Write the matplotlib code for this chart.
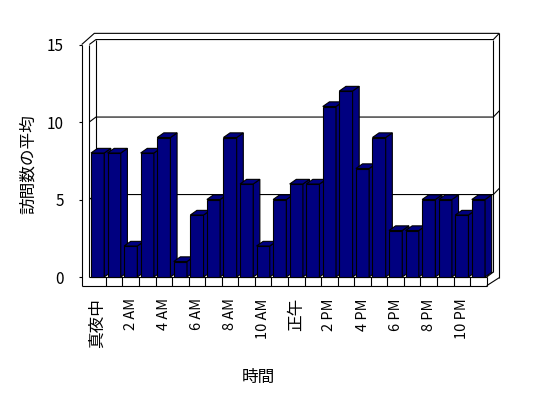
import matplotlib
matplotlib.use("Agg")
import matplotlib.pyplot as plt
from matplotlib.patches import Polygon

plt.rcParams['font.family'] = ['Noto Sans CJK JP', 'DejaVu Sans']

# data
hours = list(range(24))
visits = [8, 8, 2, 8, 9, 1, 4, 5, 9, 6, 2, 5, 6, 6, 11, 12, 7, 9, 3, 3, 5, 5, 4, 5]
tick_pos = list(range(0, 24, 2))
tick_labels = ["真夜中", "2 AM", "4 AM", "6 AM", "8 AM", "10 AM",
               "正午", "2 PM", "4 PM", "6 PM", "8 PM", "10 PM"]
y_ticks = [0, 5, 10, 15]

navy = "#000080"
lw = 0.8

# 3d look: depth offset (categories, value units)
ddx, ddy = 0.40, 0.32          # front -> back wall
bdx, bdy = 0.40, 0.30          # bar depth
wall = 0.46                    # left wall thickness (categories)
floor = 0.56                   # floor thickness (value units)
tx, ty = 0.36, 0.40            # back wall thickness
ymax = 15
n = len(hours)
xr = n - 0.5

fig = plt.figure(figsize=(5.48, 3.98), dpi=100)
ax = fig.add_axes([0.1491, 0.2822, 0.762, 0.634])
x0 = -0.5 - wall
ax.set_xlim(x0, xr + ddx + tx)
ax.set_ylim(-floor, ymax + ddy + ty)

def line(xs, ys, z=1):
    ax.plot(xs, ys, color="black", lw=lw, zorder=z, clip_on=False,
            solid_capstyle="butt")

# walls / frame
line([x0, x0], [-floor, ymax])
line([-0.5, -0.5], [0, ymax])
line([x0, -0.5 + ddx - 0.1, xr + ddx + tx], [ymax, ymax + ddy + ty, ymax + ddy + ty])
line([-0.5, -0.5 + ddx, xr + ddx, xr + ddx + tx], [ymax, ymax + ddy, ymax + ddy, ymax + ddy + ty])
line([-0.5 + ddx, -0.5 + ddx], [ddy, ymax + ddy])
line([xr + ddx, xr + ddx], [ddy, ymax + ddy])
line([xr + ddx + tx] * 2, [ymax + ddy + ty, -0.04])
line([xr, xr + ddx + tx], [-floor, -0.04])
line([x0, xr], [-floor, -floor])
line([-0.5, xr], [0, 0])
line([xr, xr], [-floor, 0])
line([xr, xr + ddx], [0, ddy])
for k in range(n - 1):
    line([k + 0.5, k + 0.5], [-floor, 0])
for v in y_ticks[1:-1]:
    line([-0.5, -0.5 + ddx, xr + ddx, xr + ddx + tx], [v, v + ddy, v + ddy, v + ddy + ty])

# bars
bars = ax.bar(hours, visits, width=0.8, color=navy, edgecolor="black", linewidth=lw)
for i, (b, v) in enumerate(zip(bars, visits)):
    z = 3 + i * 0.01
    b.set_zorder(z)
    xl, xh = hours[i] - 0.4, hours[i] + 0.4
    side = Polygon([(xh, 0), (xh + bdx, bdy), (xh + bdx, v + bdy), (xh, v)],
                   closed=True, facecolor=navy, edgecolor="black", lw=lw, zorder=z)
    top = Polygon([(xl, v), (xl + bdx, v + bdy), (xh + bdx, v + bdy), (xh, v)],
                  closed=True, facecolor=navy, edgecolor="black", lw=lw, zorder=z)
    ax.add_patch(side)
    ax.add_patch(top)

# axes
for s in ["top", "right", "bottom", "left"]:
    ax.spines[s].set_visible(False)
ax.set_yticks(y_ticks)
ax.set_yticklabels([str(t) for t in y_ticks], fontsize=11)
ax.tick_params(axis="y", length=2, width=lw, pad=11)
ax.set_xticks(tick_pos)
ax.set_xticklabels(tick_labels, rotation=90, fontsize=10.5, va="top", ha="center")
ax.tick_params(axis="x", length=0, pad=9)
for t in ax.get_xticklabels():
    if t.get_text() in ("真夜中", "正午"):
        t.set_fontsize(12)

fig.text(258 / 548, 1 - 377 / 398, "時間", fontsize=12, ha="center", va="center")
fig.text(28.5 / 548, 1 - 164 / 398, "訪問数の平均", fontsize=12, rotation=90,
         ha="center", va="center")

fig.savefig("out.png", dpi=100)
